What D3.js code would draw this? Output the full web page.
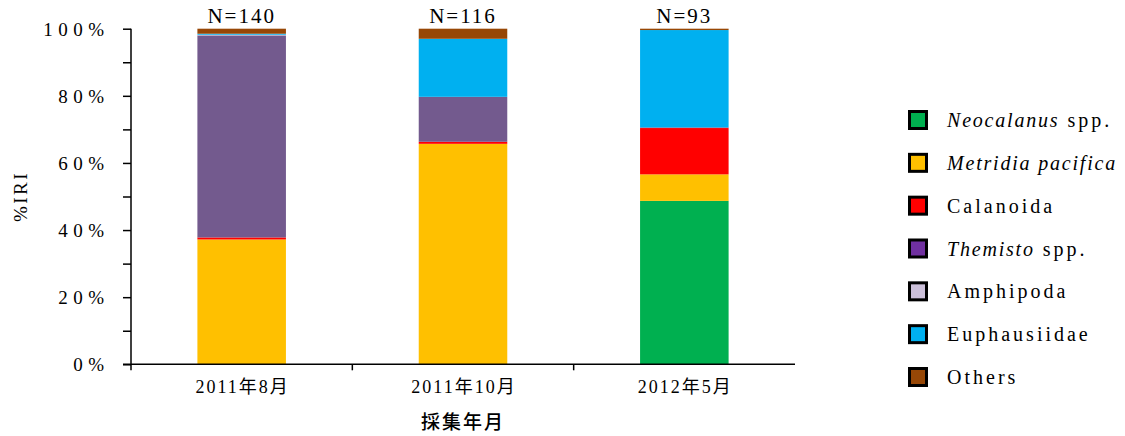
<!DOCTYPE html>
<html>
<head>
<meta charset="utf-8">
<script src="https://cdn.jsdelivr.net/npm/d3@7"></script>
<style>
  html, body { margin: 0; padding: 0; background: #fff; }
  svg { display: block; }
</style>
</head>
<body>
<svg id="chart" width="1125" height="436"></svg>
<script>
// ---- data ----
const categories = ["2011年8月", "2011年10月", "2012年5月"];
const sampleN = ["N=140", "N=116", "N=93"];
const seriesNames = ["Neocalanus spp.", "Metridia pacifica", "Calanoida", "Themisto spp.", "Amphipoda", "Euphausiidae", "Others"];
const neocalanus   = [0,    0,    48.7];
const metridia     = [37.2, 65.7, 7.9];
const calanoida    = [0.6,  0.6,  13.8];
const themisto     = [60.2, 13.4, 0.2];
const amphipoda    = [0.2,  0,    0];
const euphausiidae = [0.3,  17.3, 29.0];
const others       = [1.5,  3.0,  0.4];
const yTicks = [0, 10, 20, 30, 40, 50, 60, 70, 80, 90, 100];

// ---- styles ----
const barColors    = ["#00B050", "#FFC000", "#FF0000", "#735A8E", "#CCC0DA", "#00B0F0", "#974706"];
const legendColors = ["#00B050", "#FFC000", "#FF0000", "#7030A0", "#CCC0DA", "#00B0F0", "#974706"];
const latinSerif = "'Liberation Serif', 'DejaVu Serif', 'Times New Roman', Tinos, serif";
const mixedFont = latinSerif + ", 'Noto Sans CJK JP'";

const seriesValues = [neocalanus, metridia, calanoida, themisto, amphipoda, euphausiidae, others];
const rows = categories.map((c, i) => {
  const r = { cat: c };
  seriesNames.forEach((s, j) => r[s] = seriesValues[j][i]);
  return r;
});
const stacked = d3.stack().keys(seriesNames)(rows);

const svg = d3.select("#chart");
const x = d3.scaleBand().domain(categories).range([131, 795]).paddingInner(0).paddingOuter(0);
const y = d3.scaleLinear().domain([0, 100]).range([364.3, 28.7]);
const barW = x.bandwidth() * 0.4;

// bars
svg.append("g").selectAll("g").data(stacked).join("g")
  .attr("fill", (d, i) => barColors[i])
  .selectAll("rect").data(d => d).join("rect")
  .attr("x", d => x(d.data.cat) + (x.bandwidth() - barW) / 2)
  .attr("width", barW)
  .attr("y", d => y(d[1]))
  .attr("height", d => Math.max(0, y(d[0]) - y(d[1])));

// y axis
const yAxis = svg.append("g").attr("transform", "translate(131,0)")
  .call(d3.axisLeft(y).tickValues(yTicks).tickSize(8)
    .tickFormat(d => d % 20 === 0 ? d + "%" : ""));
yAxis.attr("font-family", null);
yAxis.select(".domain").attr("stroke", "#000").attr("stroke-width", 1.5).attr("d", `M0,${y(0)}V${y(100)}`);
yAxis.selectAll(".tick line").attr("stroke", "#000").attr("stroke-width", 1.5);
yAxis.selectAll(".tick text")
  .attr("x", -21.5).attr("dy", null).attr("dominant-baseline", "central")
  .attr("font-family", latinSerif).attr("font-size", 19).attr("letter-spacing", 5.5)
  .attr("fill", "#000");

// x axis line + ticks at category boundaries
const xg = svg.append("g");
xg.append("line").attr("x1", x.range()[0] - 8).attr("x2", x.range()[1])
  .attr("y1", y(0)).attr("y2", y(0)).attr("stroke", "#000").attr("stroke-width", 1.5);
xg.selectAll("line.tk").data(categories).join("line").attr("class", "tk")
  .attr("x1", d => x(d)).attr("x2", d => x(d))
  .attr("y1", y(0)).attr("y2", y(0) + 6).attr("stroke", "#000").attr("stroke-width", 1.5);
xg.selectAll("text").data(categories).join("text")
  .attr("x", d => x(d) + x.bandwidth() / 2 + 1).attr("y", 393)
  .attr("text-anchor", "middle")
  .attr("font-family", mixedFont).attr("font-size", 18).attr("letter-spacing", 2)
  .text(d => d);

// N labels
svg.append("g").selectAll("text").data(categories).join("text")
  .attr("x", d => x(d) + x.bandwidth() / 2).attr("y", 23)
  .attr("text-anchor", "middle")
  .attr("font-family", latinSerif).attr("font-size", 21).attr("letter-spacing", 2)
  .text((d, i) => sampleN[i]);

// axis titles
svg.append("text").attr("x", (x.range()[0] + x.range()[1]) / 2).attr("y", 429)
  .attr("text-anchor", "middle")
  .attr("font-family", "'Noto Sans CJK JP', sans-serif").attr("font-size", 19)
  .attr("font-weight", 500).attr("letter-spacing", 2)
  .text("採集年月");
svg.append("text")
  .attr("transform", `translate(27,${(y(0) + y(100)) / 2}) rotate(-90)`)
  .attr("text-anchor", "middle")
  .attr("font-family", latinSerif).attr("font-size", 19).attr("letter-spacing", 2.5)
  .text("%IRI");

// legend
const ly = d3.scalePoint().domain(seriesNames).range([120, 377]);
const leg = svg.append("g").selectAll("g").data(seriesNames).join("g")
  .attr("transform", d => `translate(918,${ly(d)})`);
leg.append("rect").attr("x", -8.5).attr("y", -8.5).attr("width", 17).attr("height", 17)
  .attr("fill", (d, i) => legendColors[i]).attr("stroke", "#000").attr("stroke-width", 3);
const lt = leg.append("text").attr("x", 29).attr("dominant-baseline", "central")
  .attr("font-family", latinSerif).attr("font-size", 20).attr("letter-spacing", 3);
lt.each(function(d) {
  const t = d3.select(this);
  const italicPart = { "Neocalanus spp.": "Neocalanus", "Metridia pacifica": "Metridia pacifica", "Themisto spp.": "Themisto" }[d];
  if (italicPart) {
    t.append("tspan").attr("font-style", "italic").attr("letter-spacing", 1.8).text(italicPart);
    const rest = d.slice(italicPart.length);
    if (rest) t.append("tspan").text(rest);
  } else {
    t.text(d);
  }
});
</script>
</body>
</html>
